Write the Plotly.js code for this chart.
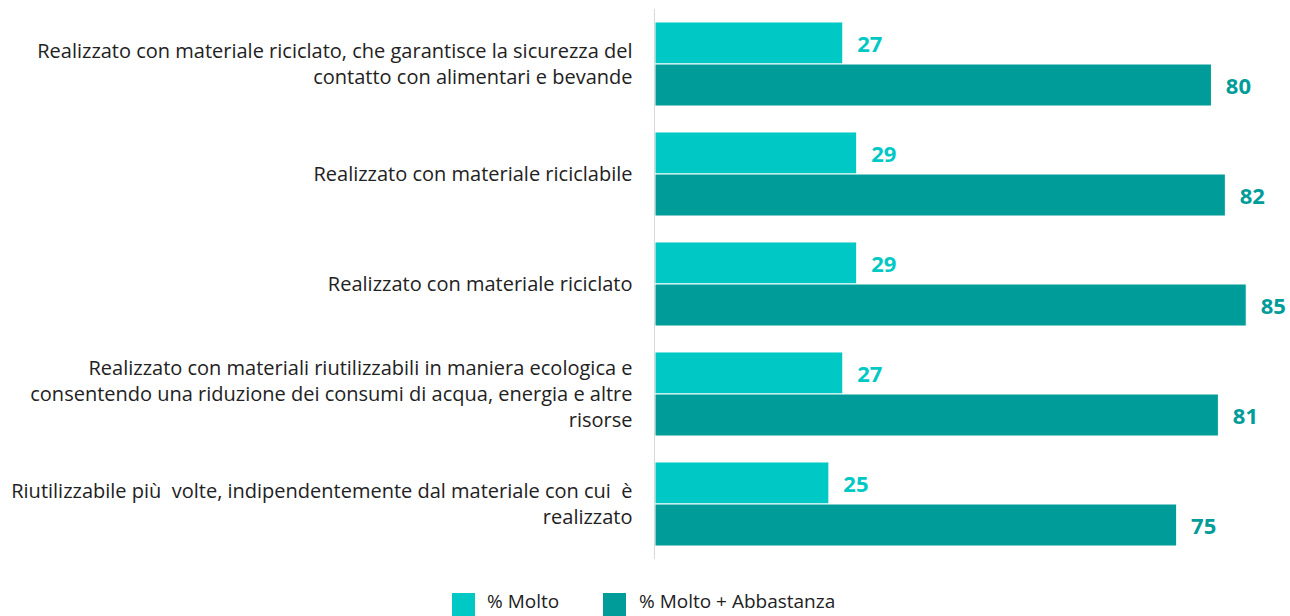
<!DOCTYPE html>
<html>
<head>
<meta charset="utf-8">
<script src="https://cdn.plot.ly/plotly-3.0.1.min.js"></script>
<style>html,body{margin:0;padding:0;background:#fff;}#chart{width:1290px;height:616px;}</style>
</head>
<body>
<div id="chart"></div>
<script>
const categories = [
  "Realizzato con materiale riciclato, che garantisce la sicurezza del<br>contatto con alimentari e bevande",
  "Realizzato con materiale riciclabile",
  "Realizzato con materiale riciclato",
  "Realizzato con materiali riutilizzabili in maniera ecologica e<br>consentendo una riduzione dei consumi di acqua, energia e altre<br>risorse",
  "Riutilizzabile più  volte, indipendentemente dal materiale con cui  è<br>realizzato"
];
const seriesNames = ["% Molto", "% Molto + Abbastanza"];
const molto = [27, 29, 29, 27, 25];
const moltoAbbastanza = [80, 82, 85, 81, 75];
const colors = ["#00C8C4", "#009C99"];

const font = "'Open Sans', sans-serif";

function barTrace(vals, name, color) {
  return {
    type: 'bar', orientation: 'h',
    y: categories, x: vals, name: name,
    marker: {color: color, line: {color: '#ffffff', width: 1}},
    text: vals.map(v => String(v)),
    texttemplate: '\u00a0\u00a0%{text}',
    textposition: 'outside',
    cliponaxis: false,
    constraintext: 'none',
    textfont: {family: font, size: 22, color: color, weight: 700},
    hoverinfo: 'skip',
    showlegend: false
  };
}

const data = [
  barTrace(molto, seriesNames[0], colors[0]),
  barTrace(moltoAbbastanza, seriesNames[1], colors[1])
];

// custom legend (large square swatches)
const plotL = 655, plotW = 626, plotBottom = 559, plotH = 550;
const px2x = p => (p - plotL) / plotW;
const py2y = p => -(p - plotBottom) / plotH;
const legendItems = [
  {sx: 452, tx: 485},
  {sx: 603, tx: 637}
];
const shapes = legendItems.map((it, i) => ({
  type: 'rect', xref: 'paper', yref: 'paper',
  x0: px2x(it.sx), x1: px2x(it.sx + 23),
  y0: py2y(593), y1: py2y(616),
  fillcolor: colors[i], line: {width: 0}
}));
const annotations = legendItems.map((it, i) => ({
  xref: 'paper', yref: 'paper',
  x: px2x(it.tx), y: py2y(616),
  xanchor: 'left', yanchor: 'bottom',
  text: seriesNames[i], showarrow: false,
  font: {family: font, size: 19, color: '#222222'}
}));

const layout = {
  width: 1290, height: 616,
  margin: {l: 655, r: 9, t: 9, b: 57},
  paper_bgcolor: '#ffffff', plot_bgcolor: '#ffffff',
  barmode: 'group', bargap: 0.236, bargroupgap: 0,
  font: {family: font, color: '#222222'},
  xaxis: {range: [0, 90], visible: false, showgrid: false, zeroline: false, fixedrange: true},
  yaxis: {
    autorange: 'reversed', showgrid: false, zeroline: false,
    showline: true, linecolor: '#d9d9d9', linewidth: 1.5,
    ticks: '', ticklabelstandoff: 17,
    tickfont: {family: font, size: 20, color: '#222222'}
  },
  showlegend: false,
  shapes: shapes,
  annotations: annotations
};

Plotly.newPlot('chart', data, layout, {displayModeBar: false, staticPlot: true});
</script>
</body>
</html>
